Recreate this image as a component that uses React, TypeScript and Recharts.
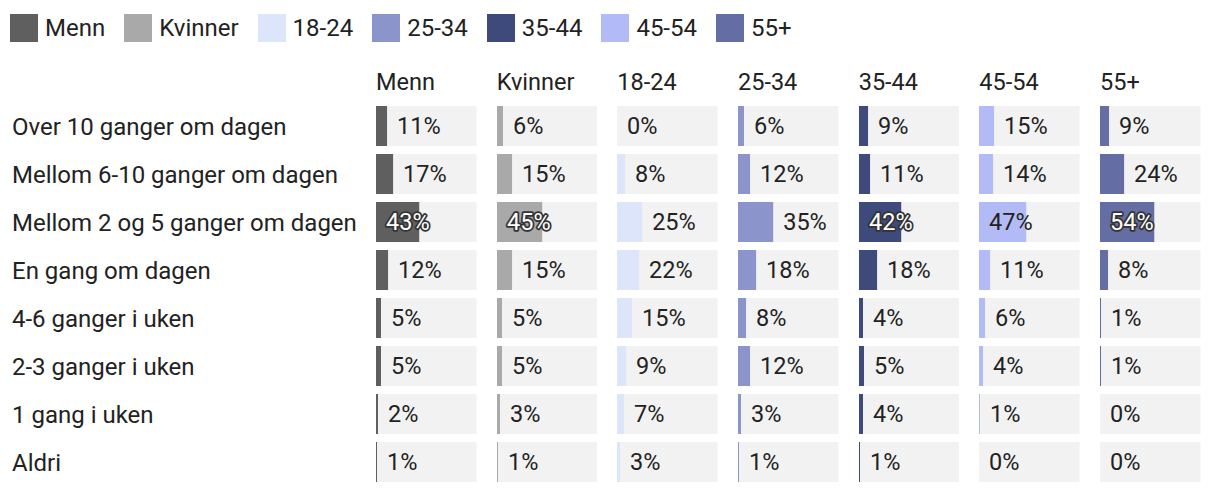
import React from 'react';
import { BarChart, Bar, XAxis, YAxis, LabelList } from 'recharts';

const categories = [
  'Over 10 ganger om dagen',
  'Mellom 6-10 ganger om dagen',
  'Mellom 2 og 5 ganger om dagen',
  'En gang om dagen',
  '4-6 ganger i uken',
  '2-3 ganger i uken',
  '1 gang i uken',
  'Aldri',
];

const groups = ['Menn', 'Kvinner', '18-24', '25-34', '35-44', '45-54', '55+'];

const menn = [11, 17, 43, 12, 5, 5, 2, 1];
const kvinner = [6, 15, 45, 15, 5, 5, 3, 1];
const age1824 = [0, 8, 25, 22, 15, 9, 7, 3];
const age2534 = [6, 12, 35, 18, 8, 12, 3, 1];
const age3544 = [9, 11, 42, 18, 4, 5, 4, 1];
const age4554 = [15, 14, 47, 11, 6, 4, 1, 0];
const age55 = [9, 24, 54, 8, 1, 1, 0, 0];

const seriesValues = [menn, kvinner, age1824, age2534, age3544, age4554, age55];
const colors = ['#5f5f5f', '#a9a9a9', '#dde5fb', '#8b95cc', '#3d4a7b', '#b3bbf6', '#656ea4'];
const lightInside = [true, true, false, false, true, false, true];
const MAX = 100;

const FONT = 'Roboto, "Noto Sans", sans-serif';
const FS = 23.5;
const FS_LEG = 24;
const FS_ROW = 24;
const TEXT = '#222222';

const COL_START = 376;
const COL_PITCH = 120.67;
const COL_W = 100.5;
const TOP = 102;
const ROW_H = 48;

function makeData(vals: number[]) {
  return categories.map((c, i) => ({ cat: c, v: vals[i], full: MAX }));
}

function makeLabel(gi: number) {
  return (props: any) => {
    const { x, y, width, height, index } = props;
    const v = seriesValues[gi][index];
    const inside = v >= 40;
    const barLen = (v / MAX) * Number(width);
    const tx = inside ? Number(x) + 10 : Number(x) + barLen + 10;
    const ty = Number(y) + Number(height) / 2;
    const white = inside && lightInside[gi];
    return (
      <text
        x={tx}
        y={ty}
        dy="0.355em"
        textAnchor="start"
        fontFamily={FONT}
        fontSize={FS}
        fill={white ? '#ffffff' : TEXT}
        stroke={white ? '#333333' : 'none'}
        strokeWidth={white ? 3.5 : 0}
        strokeLinejoin="round"
        style={{ paintOrder: 'stroke' }}
      >
        {`${v}%`}
      </text>
    );
  };
}

const RowTick = (props: any) => {
  const { y, payload } = props;
  return (
    <text x={12} y={y} dy="0.355em" textAnchor="start" fontFamily={FONT} fontSize={FS_ROW} fill={TEXT}>
      {payload.value}
    </text>
  );
};

export default function App() {
  return (
    <div style={{ position: 'absolute', left: 0, top: 0, width: 1220, height: 494, background: '#ffffff', overflow: 'hidden' }}>
      {/* Legend */}
      <div style={{ position: 'absolute', left: 10, top: 14, display: 'flex', alignItems: 'center', fontFamily: FONT, fontSize: FS_LEG, color: TEXT, lineHeight: '28px' }}>
        {groups.map((g, i) => (
          <div key={g} style={{ display: 'flex', alignItems: 'center', marginRight: 19 }}>
            <div style={{ width: 28, height: 28, background: colors[i], marginRight: 7 }} />
            <span>{g}</span>
          </div>
        ))}
      </div>
      {/* Column headers */}
      {groups.map((g, i) => (
        <div
          key={'h' + g}
          style={{ position: 'absolute', left: COL_START + i * COL_PITCH, top: 68, fontFamily: FONT, fontSize: FS, color: TEXT, lineHeight: '28px', whiteSpace: 'nowrap' }}
        >
          {g}
        </div>
      ))}
      {/* Charts */}
      {groups.map((g, i) => {
        const first = i === 0;
        const left = first ? 0 : COL_START + i * COL_PITCH;
        const width = first ? COL_START + COL_W : COL_W;
        return (
          <div key={'c' + g} style={{ position: 'absolute', left, top: TOP }}>
            <BarChart
              width={width}
              height={ROW_H * categories.length}
              data={makeData(seriesValues[i])}
              layout="vertical"
              margin={{ top: 0, right: 0, bottom: 0, left: 0 }}
              barCategoryGap={4}
              barGap={-40}
            >
              <XAxis type="number" domain={[0, MAX]} hide />
              <YAxis
                type="category"
                dataKey="cat"
                hide={!first}
                width={first ? COL_START : 0}
                axisLine={false}
                tickLine={false}
                tick={<RowTick />}
                interval={0}
              />
              <Bar dataKey="full" fill="#f2f2f2" barSize={40} isAnimationActive={false} legendType="none">
                <LabelList dataKey="full" content={makeLabel(i)} />
              </Bar>
              <Bar dataKey="v" fill={colors[i]} barSize={40} isAnimationActive={false} />
            </BarChart>
          </div>
        );
      })}
    </div>
  );
}
